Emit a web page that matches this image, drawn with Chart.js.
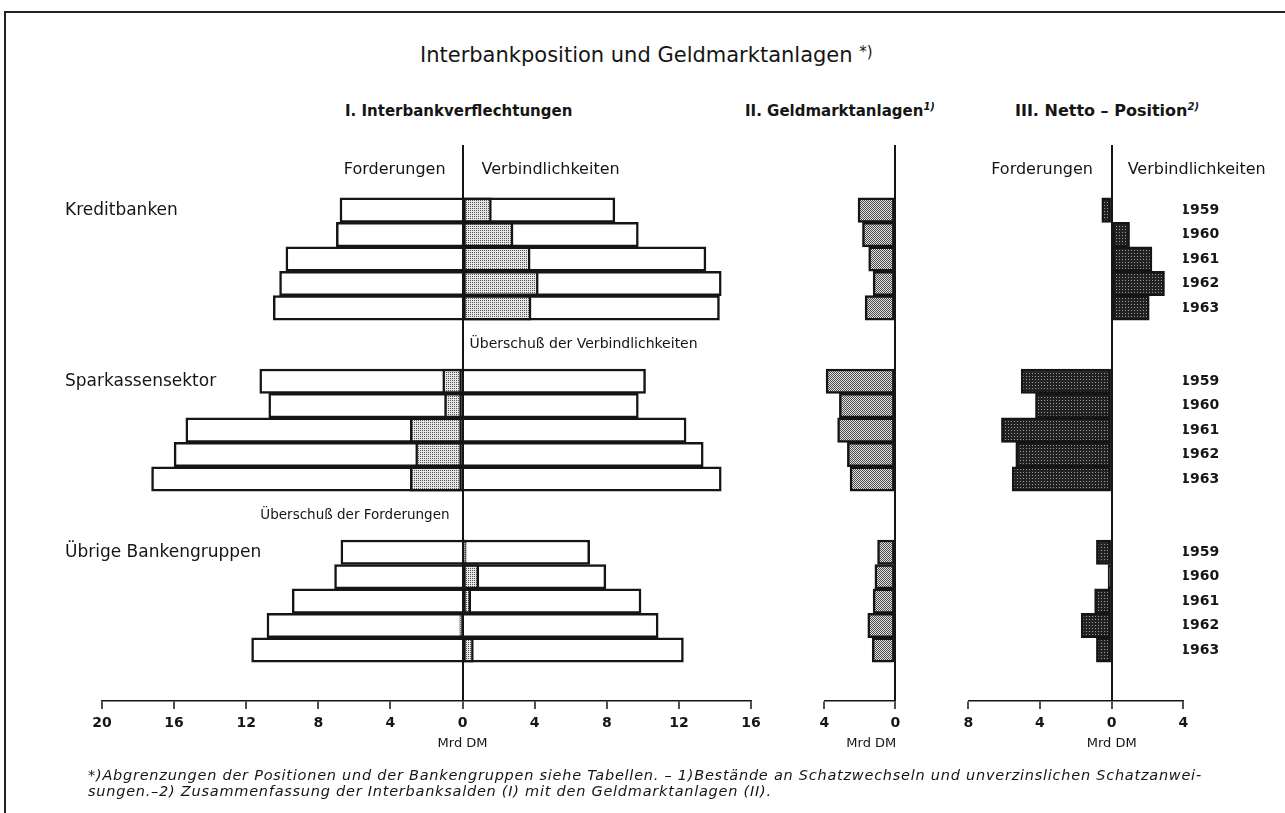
<!DOCTYPE html>
<html lang="de">
<head>
<meta charset="utf-8">
<title>Interbankposition und Geldmarktanlagen</title>
<script src="https://cdn.jsdelivr.net/npm/chart.js@4.4.1/dist/chart.umd.min.js"></script>
<style>
    html, body { margin: 0; padding: 0; background: #fff; }
    body { position: relative; width: 1285px; height: 813px; overflow: hidden;
           font-family: 'DejaVu Sans', sans-serif; color: #151515; }
    .frame { position: absolute; left: 4px; top: 11px; width: 1300px; height: 820px;
             border-top: 2px solid #222; border-left: 2px solid #222; }
    .txt { position: absolute; white-space: nowrap; line-height: 20px; }
    .sup { font-size: 10px; font-style: italic; position: relative; top: -6px; }
    canvas { position: absolute; top: 120px; }
    #titel { left: 420px; top: 43px; font-size: 21px; line-height: 24px; }
    #titel .sup { font-size: 15px; font-style: normal; top: -5px; }
    .panel { font-size: 15px; font-weight: bold; top: 101px; }
    .note { left: 88px; font-size: 14.5px; font-style: italic; letter-spacing: 0.75px; }
</style>
</head>
<body>
<div class="frame"></div>
<div class="txt" id="titel">Interbankposition und Geldmarktanlagen <span class="sup">*)</span></div>
<div class="txt panel" style="left:345px">I. Interbankverflechtungen</div>
<div class="txt panel" style="left:745px">II. Geldmarktanlagen<span class="sup">1)</span></div>
<div class="txt panel" style="left:1015px; font-size:16px">III. Netto – Position<span class="sup">2)</span></div>

<canvas id="verflechtung" width="740" height="660" style="left:40px"></canvas>
<canvas id="geldmarkt" width="140" height="660" style="left:790px"></canvas>
<canvas id="netto" width="350" height="660" style="left:935px"></canvas>

<div class="txt note" style="top:765px">*)Abgrenzungen der Positionen und der Bankengruppen siehe Tabellen. – 1)Bestände an Schatzwechseln und unverzinslichen Schatzanwei-</div>
<div class="txt note" style="top:781px">sungen.–2) Zusammenfassung der Interbanksalden (I) mit den Geldmarktanlagen (II).</div>

<script>
const years = ['1959', '1960', '1961', '1962', '1963'];
const groups = ['Kreditbanken', 'Sparkassensektor', 'Übrige Bankengruppen'];
const groupStart = [0, 7, 14]; // row of the first year of each group, two empty rows between groups

// I. Interbankverflechtungen, Mrd DM (Kreditbanken, Sparkassensektor, Übrige, each 1959-1963)
const forderungen = [
    6.8, 7.0, 9.8, 10.15, 10.5,
    11.25, 10.75, 15.35, 16.0, 17.25,
    6.75, 7.1, 9.45, 10.85, 11.7
];
const verbindlichkeiten = [
    8.45, 9.75, 13.5, 14.35, 14.25,
    10.15, 9.75, 12.4, 13.35, 14.35,
    7.05, 7.95, 9.9, 10.85, 12.25
];
// shaded part: + = Überschuß der Verbindlichkeiten, - = Überschuß der Forderungen
const ueberschuss = [
    1.6, 2.8, 3.75, 4.2, 3.8,
    -1.1, -1.0, -2.9, -2.6, -2.9,
    0.2, 0.9, 0.45, -0.15, 0.6
];

// II. Geldmarktanlagen 1)
const geldmarkt = [
    2.1, 1.85, 1.5, 1.25, 1.7,
    3.9, 3.15, 3.25, 2.7, 2.55,
    1.0, 1.15, 1.25, 1.55, 1.3
];

// III. Netto-Position 2) (+ = Verbindlichkeiten, - = Forderungen)
const netto = [
    -0.55, 1.0, 2.25, 2.95, 2.1,
    -5.05, -4.25, -6.15, -5.35, -5.55,
    -0.85, -0.2, -0.95, -1.7, -0.85
];

const ink = '#151515';
const font = "'DejaVu Sans', sans-serif";
Chart.defaults.font.family = font;
Chart.defaults.color = ink;

const rows = groups.flatMap((g, gi) => years.map((y, i) => groupStart[gi] + i));
const points = (values) => values.map((v, i) => ({ x: v, y: rows[i] }));

const yearLabel = function (value) {
    const i = rows.indexOf(value);
    return i < 0 ? '' : years[i % years.length];
};

// small dotted raster like the printed screens
const stipple = function (canvasId, size, base, dot, cells) {
    const tile = document.createElement('canvas');
    tile.width = size;
    tile.height = size;
    const t = tile.getContext('2d');
    t.fillStyle = base;
    t.fillRect(0, 0, size, size);
    t.fillStyle = dot;
    for (const [x, y] of cells) t.fillRect(x, y, 1, 1);
    return document.getElementById(canvasId).getContext('2d').createPattern(tile, 'repeat');
};

// texts that belong to a panel, placed with the panel's scales
const panelText = {
    id: 'panelText',
    afterDraw(chart, args, opts) {
        const { ctx, chartArea } = chart;
        const xs = chart.scales.x;
        const ys = chart.scales.y;
        ctx.save();
        ctx.fillStyle = ink;
        ctx.textBaseline = 'middle';
        for (const t of opts.items) {
            ctx.font = t.font;
            ctx.textAlign = t.align;
            const x = t.left !== undefined ? t.left : xs.getPixelForValue(t.at) + (t.dx || 0);
            const y = t.row !== undefined ? ys.getPixelForValue(t.row) : chartArea.bottom + t.below;
            ctx.fillText(t.text, x, y);
        }
        ctx.restore();
    }
};

const rowAxis = function () {
    return {
        type: 'linear',
        reverse: true,
        min: -2.15,
        max: 19.57,
        display: false,
        grid: { display: false, drawTicks: false },
        border: { display: false },
        ticks: { stepSize: 1, includeBounds: false, autoSkip: false }
    };
};

const valueAxis = function (min, max) {
    return {
        type: 'linear',
        min: min,
        max: max,
        grid: {
            z: 1,
            color: (c) => (c.tick && c.tick.value === 0 ? ink : 'rgba(0,0,0,0)'),
            lineWidth: 2,
            tickColor: ink,
            tickWidth: 1.5,
            tickLength: 8
        },
        // drawn after the grid so its position is known
        border: { z: 1, color: ink, width: 1.5 },
        ticks: {
            stepSize: 4,
            includeBounds: false,
            autoSkip: false,
            maxRotation: 0,
            padding: 6,
            color: ink,
            font: { size: 14, weight: 'bold' },
            callback: (v) => Math.abs(v)
        },
        afterFit: (s) => { s.height = 50; }
    };
};

const baseOptions = function (padding, x, y, items) {
    return {
        indexAxis: 'y',
        responsive: false,
        animation: false,
        grouped: false,
        categoryPercentage: 1,
        barPercentage: 1,
        layout: { padding: padding },
        scales: { x: x, y: y },
        plugins: {
            legend: { display: false },
            tooltip: { enabled: false },
            panelText: { items: items }
        }
    };
};

const createInterbankChart = function () {
    const items = groups.map((g, gi) => ({ text: g, left: 25, row: groupStart[gi], align: 'left', font: `17px ${font}` }));
    items.push(
        { text: 'Forderungen', at: 0, dx: -17, row: -1.65, align: 'right', font: `16px ${font}` },
        { text: 'Verbindlichkeiten', at: 0, dx: 19, row: -1.65, align: 'left', font: `16px ${font}` },
        { text: 'Überschuß der Verbindlichkeiten', at: 0, dx: 7, row: 5.5, align: 'left', font: `14px ${font}` },
        { text: 'Überschuß der Forderungen', at: 0, dx: -13, row: 12.5, align: 'right', font: `13.5px ${font}` },
        { text: 'Mrd DM', at: 0, below: 43, align: 'center', font: `13px ${font}` }
    );
    new Chart(document.getElementById('verflechtung'), {
        type: 'bar',
        data: {
            datasets: [
                {
                    label: 'Überschuß',
                    data: points(ueberschuss),
                    backgroundColor: stipple('verflechtung', 2, '#e6e6e6', '#555', [[0, 0]]),
                    borderColor: ink,
                    borderWidth: 2.5,
                    borderSkipped: false,
                    order: 0
                },
                {
                    label: 'Forderungen / Verbindlichkeiten',
                    data: rows.map((r, i) => ({ x: [-forderungen[i], verbindlichkeiten[i]], y: r })),
                    backgroundColor: '#fff',
                    borderColor: ink,
                    borderWidth: 2.5,
                    borderSkipped: false,
                    order: 1
                }
            ]
        },
        options: baseOptions({ left: 62, right: 29, top: 25, bottom: 29 }, valueAxis(-20, 16), rowAxis(), items),
        plugins: [panelText]
    });
};

const createGeldmarktChart = function () {
    new Chart(document.getElementById('geldmarkt'), {
        type: 'bar',
        data: {
            datasets: [{
                label: 'Geldmarktanlagen',
                data: points(geldmarkt.map((v) => -v)),
                backgroundColor: stipple('geldmarkt', 2, '#e2e2e2', '#4a4a4a', [[0, 0], [1, 1]]),
                borderColor: ink,
                borderWidth: 2.5,
                borderSkipped: false
            }]
        },
        options: baseOptions({ left: 34.3, right: 34.7, top: 25, bottom: 29 }, valueAxis(-4, 0), rowAxis(),
            [{ text: 'Mrd DM', at: -1.35, below: 43, align: 'center', font: `13px ${font}` }]),
        plugins: [panelText]
    });
};

const createNettoChart = function () {
    const y = rowAxis();
    y.display = true;
    y.position = 'right';
    y.ticks = {
        stepSize: 1, includeBounds: false, autoSkip: false, padding: -3, crossAlign: 'near',
        color: ink, font: { size: 14, weight: 'bold' }, callback: yearLabel
    };
    y.afterFit = (s) => { s.width = 60; };
    new Chart(document.getElementById('netto'), {
        type: 'bar',
        data: {
            datasets: [{
                label: 'Netto-Position',
                data: points(netto),
                backgroundColor: stipple('netto', 3, '#222', '#9a9a9a', [[1, 1]]),
                borderColor: ink,
                borderWidth: 2.5,
                borderSkipped: false
            }]
        },
        options: baseOptions({ left: 33.3, right: 41.7, top: 25, bottom: 29 }, valueAxis(-8, 4), y, [
            { text: 'Forderungen', at: 0, dx: -18.7, row: -1.65, align: 'right', font: `16px ${font}` },
            { text: 'Verbindlichkeiten', at: 0, dx: 16, row: -1.65, align: 'left', font: `16px ${font}` },
            { text: 'Mrd DM', at: 0, below: 43, align: 'center', font: `13px ${font}` }
        ]),
        plugins: [panelText]
    });
};

const init = function () {
    createInterbankChart();
    createGeldmarktChart();
    createNettoChart();
};

document.addEventListener('DOMContentLoaded', init);
</script>
</body>
</html>
